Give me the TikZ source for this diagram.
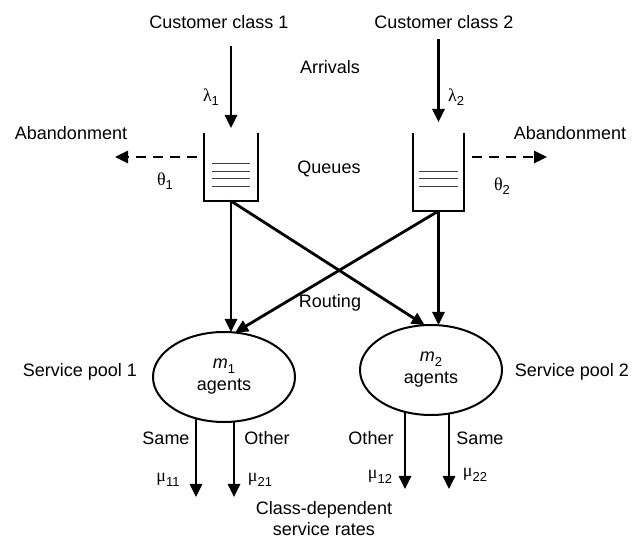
\documentclass[tikz,border=0pt]{standalone}
\usepackage{fontspec}
\setmainfont{Liberation Sans}
\newfontfamily\grk{Liberation Serif}
\usetikzlibrary{arrows.meta,calc,shapes.geometric}
\newcommand\gsub[2]{{\grk #1}\raisebox{-0.45ex}{\fontsize{13}{13}\selectfont #2}}
\newcommand\msub[2]{\textit{#1}\raisebox{-0.45ex}{\fontsize{13}{13}\selectfont #2}}
\begin{document}
\begin{tikzpicture}[x=1pt,y=-1pt,
  txt/.style={font=\fontsize{18}{21}\selectfont, inner sep=0pt, align=center},
  arr/.style={line width=2.8pt, -{Triangle[length=13pt,width=12pt]}},
  dasharr/.style={line width=2.8pt, dash pattern=on 10pt off 7pt, -{Triangle[length=13pt,width=12pt]}},
  qbox/.style={line width=2.2pt},
  qline/.style={line width=1pt, draw=black!75},
  qnode/.style={draw=none, inner sep=0pt, outer sep=0pt},
  pool/.style={ellipse, draw, line width=2pt, minimum width=142pt, minimum height=90pt,
    inner sep=0pt, outer sep=0pt, align=center, font=\fontsize{18}{22}\selectfont}
]
\useasboundingbox (0,0) rectangle (633,540);

% top labels
\node[txt] (cc1) at (219,22) {Customer class 1};
\node[txt] (cc2) at (444,22) {Customer class 2};
\node[txt] (arrv) at (330,67) {Arrivals};
\node[txt] (l1) at (211,97) {\gsub{λ}{1}};
\node[txt] (l2) at (456,97) {\gsub{λ}{2}};

% queues
\node[qnode, minimum width=54pt, minimum height=68pt] (q1) at (231,167) {};
\node[qnode, minimum width=51pt, minimum height=78pt] (q2) at (438.5,172) {};
\draw[qbox] (q1.north west) -- (q1.south west) -- (q1.south east) -- (q1.north east);
\draw[qbox] (q2.north west) -- (q2.south west) -- (q2.south east) -- (q2.north east);
\foreach \d in {-3,5,12,20}
  \draw[qline] ($(q1.center)+(-19,\d)$) -- ($(q1.center)+(19,\d)$);
\foreach \d in {0,7,15}
  \draw[qline] ($(q2.center)+(-19.5,\d)$) -- ($(q2.center)+(19.5,\d)$);
\node[txt] (qlab) at (329,169) {Queues};

% arrivals arrows
\coordinate (a1s) at (231,46);
\coordinate (a2s) at (438.5,39);
\draw[arr] (a1s) -- ($(q1.north)+(0,-5)$);
\draw[arr] (a2s) -- ($(q2.north)+(0,-11)$);

% abandonment
\node[txt] (ab1) at (71,133) {Abandonment};
\node[txt] (ab2) at (570,133) {Abandonment};
\node[txt] (th1) at (165,181) {\gsub{θ}{1}};
\node[txt] (th2) at (502,186) {\gsub{θ}{2}};
\coordinate (d1s) at (197,157);
\coordinate (d1e) at (115,157);
\coordinate (d2s) at (472,157);
\coordinate (d2e) at (547,157);
\draw[dasharr] (d1s) -- (d1e);
\draw[dasharr] (d2s) -- (d2e);

% service pools
\node[pool] (e1) at (224,377) {\msub{m}{1}\\agents};
\node[pool] (e2) at (431,370) {\msub{m}{2}\\agents};
\node[txt] (sp1) at (80,372) {Service pool 1};
\node[txt] (sp2) at (572,372) {Service pool 2};
\node[txt] (rout) at (330,303) {Routing};

% routing arrows
\draw[arr] (q1.south) -- (q1.south |- e1.north);
\draw[arr] (q1.south) -- (e2.98);
\draw[arr] (q2.south) -- (q2.south |- e2.north);
\draw[arr] (q2.south) -- (e1.76);

% service arrows
\coordinate (t11) at (196,497);
\coordinate (t21) at (234,497);
\coordinate (t12) at (405,489);
\coordinate (t22) at (449,489);
\draw[arr] ($(e1.center)+(-28,41.35)$) -- (t11);
\draw[arr] ($(e1.center)+(10,44.55)$) -- (t21);
\draw[arr] ($(e2.center)+(-26,41.87)$) -- (t12);
\draw[arr] ($(e2.center)+(18,43.53)$) -- (t22);

\node[txt] (s1) at (166,438) {Same};
\node[txt] (o1) at (267,438) {Other};
\node[txt] (o2) at (371,438) {Other};
\node[txt] (s2) at (480,438) {Same};
\node[txt] (m11) at (168,480) {\gsub{μ}{11}};
\node[txt] (m21) at (260,480) {\gsub{μ}{21}};
\node[txt] (m12) at (380,477) {\gsub{μ}{12}};
\node[txt] (m22) at (475,475) {\gsub{μ}{22}};
\node[txt] (cds) at (324,519) {Class-dependent\\service rates};
\end{tikzpicture}
\end{document}
